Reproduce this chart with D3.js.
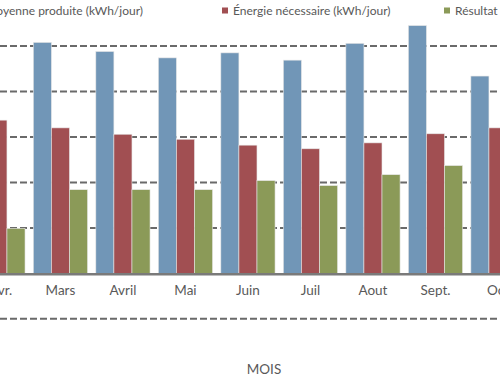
<!DOCTYPE html>
<html><head><meta charset="utf-8">
<script src="https://cdn.jsdelivr.net/npm/d3@7"></script>
<style>body{margin:0;background:#fff;}svg{display:block;}</style>
</head><body>
<script>
const months = ["Fevr.","Mars","Avril","Mai","Juin","Juil","Aout","Sept.","Oct"];
const produite = [4.36,5.08,4.88,4.74,4.85,4.69,5.06,5.45,4.34];
const necessaire = [3.37,3.20,3.06,2.95,2.82,2.74,2.87,3.07,3.20];
const resultat = [0.99,1.84,1.84,1.84,2.04,1.93,2.17,2.37,1.14];
const seriesNames = ["Énergie moyenne produite (kWh/jour)","Énergie nécessaire (kWh/jour)","Résultat énergétique (kWh/jour)"];
const colors = ["#7196b7","#a14f52","#8b9a58"];
const gridTicks = [-1,0,1,2,3,4,5];

const W=500,H=380;
const svg=d3.select("body").append("svg").attr("width",W).attr("height",H);
const font="'Century Gothic','Lato','Open Sans',sans-serif";

const x=d3.scaleBand().domain(months).range([-33.3,529.2]).paddingInner(0.133).paddingOuter(0.066);
const xs=d3.scaleBand().domain([0,1,2]).range([0,x.bandwidth()]);
const y=d3.scaleLinear().domain([-1,6]).range([318.8,0.6]);

// gridlines
svg.append("g").selectAll("line").data(gridTicks.filter(d=>d!==0)).join("line")
  .attr("x1",0).attr("x2",W).attr("y1",d=>y(d)).attr("y2",d=>y(d))
  .attr("stroke","#6a6a6a").attr("stroke-width",2).attr("stroke-dasharray","7,3");

const data=[produite,necessaire,resultat];
const g=svg.append("g");
months.forEach((m,i)=>{
  data.forEach((s,j)=>{
    g.append("rect").attr("x",x(m)+xs(j)).attr("width",xs.bandwidth())
      .attr("y",y(s[i])).attr("height",y(0)-y(s[i]))
      .attr("fill",colors[j]).attr("stroke","#e6e6e6").attr("stroke-width",0.6);
  });
});

// axis
const ax=svg.append("g").attr("transform",`translate(0,${y(0)})`)
  .call(d3.axisBottom(x).tickSize(0).tickPadding(12));
ax.select(".domain").attr("stroke","#7a7a7a").attr("stroke-width",2.5).attr("d",`M0,1H${W}`);
ax.selectAll("text").attr("font-family",font).attr("font-size",13.5).attr("fill","#595959");

svg.append("text").attr("x",264).attr("y",374).attr("text-anchor","middle")
  .attr("font-family",font).attr("font-size",13.5).attr("fill","#595959").text("MOIS");

// legend
const leg=[{mx:-10,tx:143,anchor:"end"},{mx:222,tx:233,anchor:"start"},{mx:444,tx:455,anchor:"start"}];
leg.forEach((l,i)=>{
  svg.append("rect").attr("x",l.mx).attr("y",7.5).attr("width",6).attr("height",6).attr("fill",colors[i]);
  svg.append("text").attr("x",l.tx).attr("y",15).attr("text-anchor",l.anchor)
    .attr("font-family",font).attr("font-size",12).attr("fill","#595959").text(seriesNames[i]);
});
</script>
</body></html>
